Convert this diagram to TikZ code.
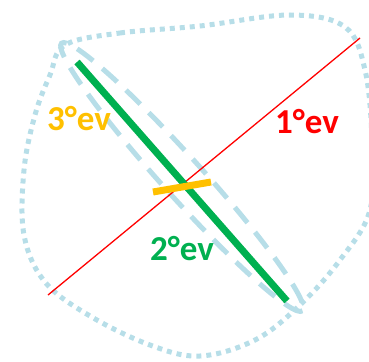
\documentclass[tikz,border=0pt]{standalone}
\usepackage{fontspec}
\setmainfont{Carlito}
\definecolor{evblue}{HTML}{B7DEE8}
\definecolor{evred}{HTML}{FF0000}
\definecolor{evgreen}{HTML}{00B050}
\definecolor{evorange}{HTML}{FFC000}
\tikzset{
  blob/.style={evblue, line width=5pt, dash pattern=on 5pt off 5pt},
  dashell/.style={evblue, line width=5pt, dash pattern=on 20pt off 12pt},
  evlabel/.style={font=\fontsize{35}{40}\selectfont\bfseries, inner sep=0pt},
}
\begin{document}
\begin{tikzpicture}[x=1pt,y=-1pt]
\useasboundingbox (0,0) rectangle (369,361);
\clip (0,0) rectangle (369,361);
% outer dotted region
\draw[blob] plot[smooth cycle, tension=0.6] coordinates {(65,45) (120,33) (200,26) (290,15) (345,27) (365,70) (372,140) (370,210) (340,260) (300,305) (255,340) (200,356) (150,345) (90,316) (45,282) (24,235) (24,170) (35,115) (50,75)};
% dashed ellipse around 2nd eigenvector
\draw[dashell] (182,177) ellipse [x radius=180, y radius=20, rotate=-48];
% eigenvectors
\coordinate (r1) at (48,295);
\coordinate (r2) at (360,38);
\coordinate (g1) at (77,62);
\coordinate (g2) at (287,301);
\coordinate (o1) at (153,192);
\coordinate (o2) at (211,182);
\draw[evred, line width=1.3pt] (r1) -- (r2);
\draw[evgreen, line width=7pt] (g1) -- (g2);
\draw[evorange, line width=7pt] (o1) -- (o2);
% labels
\node[evlabel, text=evorange] (t3) at (79,119) {3°ev};
\node[evlabel, text=evred] (t1) at (307,122) {1°ev};
\node[evlabel, text=evgreen] (t2) at (182,249) {2°ev};
\end{tikzpicture}
\end{document}
